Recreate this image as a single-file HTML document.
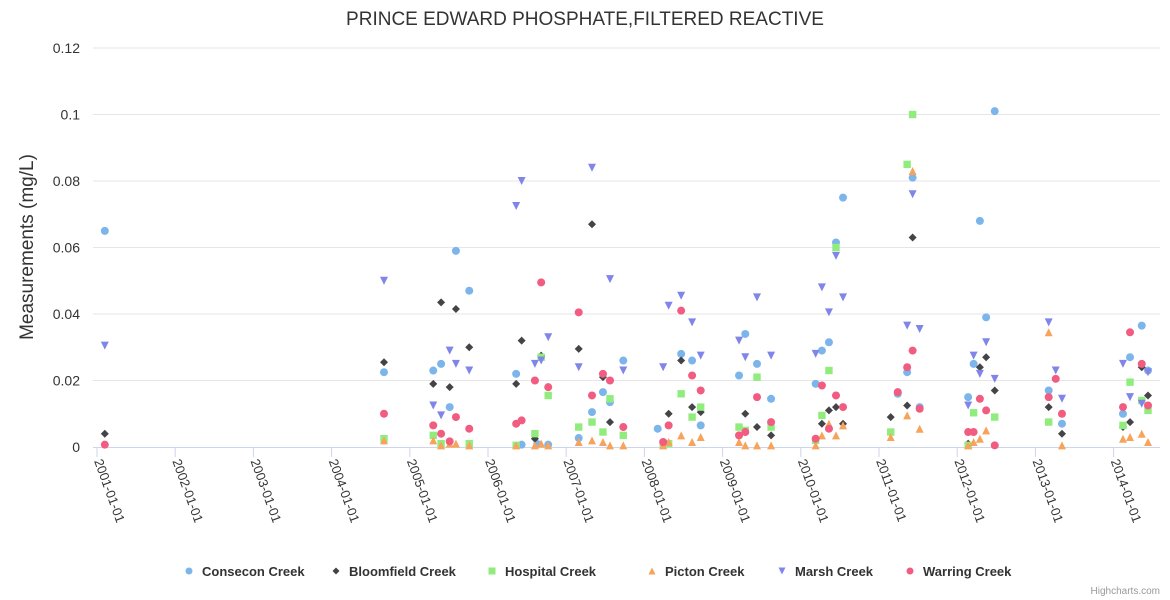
<!DOCTYPE html>
<html><head><meta charset="utf-8">
<style>
html,body{margin:0;padding:0;background:#fff;}
svg{display:block;font-family:"Liberation Sans",Arial,sans-serif;}
</style></head>
<body>
<svg id="chart" width="1170" height="600">
<text x="585" y="25" text-anchor="middle" font-size="19" fill="#333">PRINCE EDWARD PHOSPHATE,FILTERED REACTIVE</text>
<text transform="translate(33,247) rotate(-90)" text-anchor="middle" font-size="19" fill="#333">Measurements (mg/L)</text>
<g id="grid"></g><g id="xaxis"></g><g id="marks"></g><g id="legend"></g>
<text x="1160" y="594" text-anchor="end" font-size="10" fill="#999">Highcharts.com</text>
</svg>
<script>
const yTicks=[0,0.02,0.04,0.06,0.08,0.1,0.12];
const yTickLabels=["0","0.02","0.04","0.06","0.08","0.1","0.12"];
const xTicks=[2001,2002,2003,2004,2005,2006,2007,2008,2009,2010,2011,2012,2013,2014];
const xTickLabels=["2001-01-01","2002-01-01","2003-01-01","2004-01-01","2005-01-01","2006-01-01","2007-01-01","2008-01-01","2009-01-01","2010-01-01","2011-01-01","2012-01-01","2013-01-01","2014-01-01"];
const seriesNames=["Consecon Creek","Bloomfield Creek","Hospital Creek","Picton Creek","Marsh Creek","Warring Creek"];
const consecon=[[2001.10,0.065],[2004.67,0.0225],[2005.30,0.023],[2005.40,0.025],[2005.51,0.012],[2005.59,0.059],[2005.76,0.047],[2006.36,0.022],[2006.43,0.0007],[2006.63,0.0009],[2006.77,0.0007],[2007.16,0.0027],[2007.33,0.0105],[2007.47,0.0165],[2007.56,0.0135],[2007.73,0.026],[2008.17,0.0055],[2008.47,0.028],[2008.61,0.026],[2008.72,0.0065],[2009.21,0.0215],[2009.29,0.034],[2009.44,0.025],[2009.62,0.0145],[2010.19,0.019],[2010.27,0.029],[2010.36,0.0315],[2010.45,0.0615],[2010.54,0.075],[2011.24,0.016],[2011.36,0.0225],[2011.43,0.081],[2011.52,0.012],[2012.14,0.015],[2012.21,0.025],[2012.29,0.068],[2012.37,0.039],[2012.48,0.101],[2013.17,0.017],[2013.34,0.007],[2014.12,0.01],[2014.21,0.027],[2014.36,0.0365],[2014.44,0.023]];
const bloomfield=[[2001.10,0.004],[2004.67,0.0255],[2005.30,0.019],[2005.40,0.0435],[2005.51,0.018],[2005.59,0.0415],[2005.76,0.03],[2006.36,0.019],[2006.43,0.032],[2006.60,0.0025],[2006.68,0.0275],[2006.77,0.018],[2007.16,0.0295],[2007.33,0.067],[2007.47,0.021],[2007.56,0.0075],[2007.73,0.006],[2008.31,0.01],[2008.47,0.026],[2008.61,0.012],[2008.72,0.0105],[2009.29,0.01],[2009.44,0.006],[2009.62,0.0035],[2010.27,0.007],[2010.36,0.011],[2010.45,0.012],[2010.54,0.007],[2011.15,0.009],[2011.36,0.0125],[2011.43,0.063],[2012.14,0.001],[2012.21,0.0045],[2012.29,0.024],[2012.37,0.027],[2012.48,0.017],[2013.17,0.012],[2013.34,0.004],[2014.12,0.006],[2014.21,0.0075],[2014.36,0.024],[2014.44,0.0155]];
const hospital=[[2004.67,0.0025],[2005.30,0.0035],[2005.40,0.001],[2005.76,0.001],[2006.36,0.0005],[2006.60,0.004],[2006.68,0.027],[2006.77,0.0155],[2007.16,0.006],[2007.33,0.0075],[2007.47,0.0045],[2007.56,0.0145],[2007.73,0.0035],[2008.24,0.001],[2008.31,0.001],[2008.47,0.016],[2008.61,0.009],[2008.72,0.012],[2009.21,0.006],[2009.29,0.005],[2009.44,0.021],[2009.62,0.006],[2010.19,0.002],[2010.27,0.0095],[2010.36,0.023],[2010.45,0.06],[2011.15,0.0045],[2011.36,0.085],[2011.43,0.1],[2012.14,0.0005],[2012.21,0.0103],[2012.48,0.009],[2013.17,0.0075],[2014.12,0.0065],[2014.21,0.0195],[2014.36,0.014],[2014.44,0.011]];
const picton=[[2004.67,0.002],[2005.30,0.002],[2005.40,0.0005],[2005.51,0.001],[2005.59,0.001],[2005.76,0.0005],[2006.36,0.0005],[2006.60,0.0005],[2006.68,0.001],[2006.77,0.0005],[2007.16,0.0015],[2007.33,0.002],[2007.47,0.0015],[2007.56,0.0005],[2007.73,0.0005],[2008.24,0.0005],[2008.31,0.0015],[2008.47,0.0035],[2008.61,0.0015],[2008.72,0.003],[2009.21,0.0015],[2009.29,0.0005],[2009.44,0.0005],[2009.62,0.0005],[2010.19,0.0005],[2010.27,0.0035],[2010.36,0.007],[2010.45,0.0035],[2010.54,0.0065],[2011.15,0.003],[2011.36,0.0095],[2011.43,0.083],[2011.52,0.0055],[2012.14,0.0005],[2012.21,0.0015],[2012.29,0.0025],[2012.37,0.005],[2013.17,0.0345],[2013.34,0.0005],[2014.12,0.0025],[2014.21,0.003],[2014.36,0.004],[2014.44,0.0015]];
const marsh=[[2001.10,0.0305],[2004.67,0.05],[2005.30,0.0125],[2005.40,0.0095],[2005.51,0.029],[2005.59,0.025],[2005.76,0.023],[2006.36,0.0725],[2006.43,0.08],[2006.60,0.025],[2006.68,0.026],[2006.77,0.033],[2007.16,0.024],[2007.33,0.084],[2007.56,0.0505],[2007.73,0.023],[2008.24,0.024],[2008.31,0.0425],[2008.47,0.0455],[2008.61,0.0375],[2008.72,0.0275],[2009.21,0.032],[2009.29,0.027],[2009.44,0.045],[2009.62,0.0275],[2010.19,0.028],[2010.27,0.048],[2010.36,0.0405],[2010.45,0.0575],[2010.54,0.045],[2011.36,0.0365],[2011.43,0.076],[2011.52,0.0355],[2012.14,0.0125],[2012.21,0.0275],[2012.29,0.022],[2012.37,0.0315],[2012.48,0.0205],[2013.17,0.0375],[2013.26,0.023],[2013.34,0.0145],[2014.12,0.025],[2014.21,0.015],[2014.36,0.013],[2014.44,0.0225]];
const warring=[[2001.10,0.0007],[2004.67,0.01],[2005.30,0.0065],[2005.40,0.004],[2005.51,0.0017],[2005.59,0.009],[2005.76,0.0055],[2006.36,0.007],[2006.43,0.008],[2006.60,0.02],[2006.68,0.0495],[2006.77,0.018],[2007.16,0.0405],[2007.33,0.0155],[2007.47,0.022],[2007.56,0.02],[2007.73,0.006],[2008.24,0.0015],[2008.31,0.0065],[2008.47,0.041],[2008.61,0.0215],[2008.72,0.017],[2009.21,0.0035],[2009.29,0.0045],[2009.44,0.015],[2009.62,0.0075],[2010.19,0.0025],[2010.27,0.0185],[2010.36,0.0055],[2010.45,0.0155],[2010.54,0.012],[2011.24,0.0165],[2011.36,0.024],[2011.43,0.029],[2011.52,0.0115],[2012.14,0.0045],[2012.21,0.0045],[2012.29,0.0145],[2012.37,0.011],[2012.48,0.0005],[2013.17,0.015],[2013.26,0.0205],[2013.34,0.01],[2014.12,0.012],[2014.21,0.0345],[2014.36,0.025],[2014.44,0.0125]];

const NS="http://www.w3.org/2000/svg";
const X0=97, PXY=78.2, Y0=447, YH=399, YMAX=0.12, XR=1160, XL=93;
function xs(v){return X0+(v-2001)*PXY;}
function ys(v){return Y0-v/YMAX*YH;}
function mk(tag,attrs,parent){const e=document.createElementNS(NS,tag);for(const k in attrs)e.setAttribute(k,attrs[k]);parent.appendChild(e);return e;}
const grid=document.getElementById('grid'),xa=document.getElementById('xaxis'),marks=document.getElementById('marks'),lg=document.getElementById('legend');
yTicks.forEach((t,i)=>{
  if(i>0){const l=mk('line',{x1:XL,x2:XR,y1:ys(t),y2:ys(t),stroke:'#e6e6e6','stroke-width':1},grid);
  
  }
  const tx=mk('text',{x:80,y:ys(t)+5,'text-anchor':'end','font-size':14,fill:'#333'},grid);
  tx.textContent=yTickLabels[i];
  
  
});
const ax=mk('line',{x1:XL,x2:XR,y1:Y0+0.5,y2:Y0+0.5,stroke:'#ccd6eb','stroke-width':1},xa);


xTicks.forEach((t,i)=>{
  const x=xs(t);
  const tk=mk('line',{x1:x,x2:x,y1:Y0,y2:Y0+10,stroke:'#ccd6eb'},xa);
  
  
  const tx=mk('text',{transform:`translate(${x-3},${Y0+14}) rotate(70)`,'font-size':13,fill:'#333'},xa);
  tx.textContent=xTickLabels[i];
  
  
});
const colors=['#7cb5ec','#434348','#90ed7d','#f7a35c','#8085e9','#f15c80'];
const shapes=['circle','diamond','square','triangle','triangle-down','circle'];
function marker(shape,x,y,c,parent,r){
  r=r||4;let e;
  if(shape==='circle')e=mk('circle',{cx:x,cy:y,r:r,fill:c},parent);
  else if(shape==='square')e=mk('rect',{x:x-r,y:y-r,width:2*r,height:2*r,fill:c},parent);
  else if(shape==='diamond')e=mk('path',{d:`M${x} ${y-r}L${x+r} ${y}L${x} ${y+r}L${x-r} ${y}Z`,fill:c},parent);
  else if(shape==='triangle')e=mk('path',{d:`M${x} ${y-r}L${x+r} ${y+r}L${x-r} ${y+r}Z`,fill:c},parent);
  else e=mk('path',{d:`M${x-r} ${y-r}L${x+r} ${y-r}L${x} ${y+r}Z`,fill:c},parent);
  return e;
}
const allSeries=[consecon,bloomfield,hospital,picton,marsh,warring];
const keys=['consecon','bloomfield','hospital','picton','marsh','warring'];
allSeries.forEach((s,si)=>{
  const g=mk('g',{},marks);
  
  
  s.forEach(p=>{
    const e=marker(shapes[si],xs(p[0]),ys(p[1]),colors[si],g,si===2?3.7:4);
    
    
  });
});
const legendX=[189,336,492,652,782,910];
seriesNames.forEach((n,i)=>{
  const g=mk('g',{},lg);
  
  
  marker(shapes[i],legendX[i],571,colors[i],g,3.5);
  const t=mk('text',{x:legendX[i]+13,y:576,'font-size':13,'font-weight':'bold',fill:'#333'},g);
  t.textContent=n;
});
</script>
</body></html>
